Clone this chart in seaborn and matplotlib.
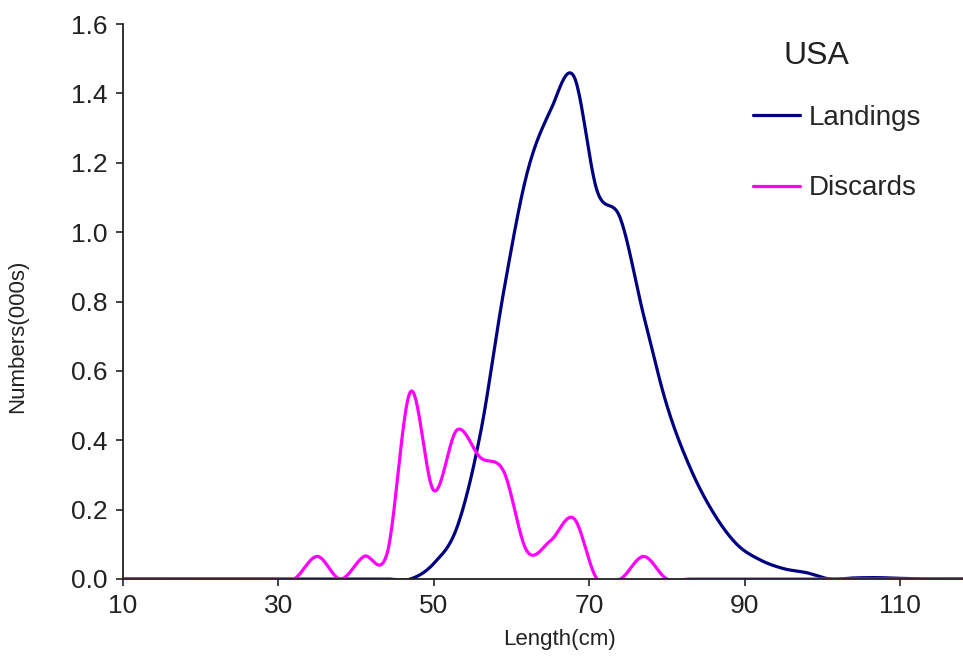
import numpy as np
import pandas as pd
import matplotlib
matplotlib.use('Agg')
import matplotlib.pyplot as plt
from matplotlib.ticker import FormatStrFormatter
import seaborn as sns

# length classes (cm) and numbers (000s)
lengths = [8, 11, 14, 17, 20, 23, 26, 29, 32, 35, 38, 41, 44, 47, 50, 53, 56, 59, 62,
           65, 68, 71, 74, 77, 80, 83, 86, 89, 92, 95, 98, 101, 104, 107, 110, 113, 116, 119]
landings = [0, 0, 0, 0, 0, 0, 0, 0, 0, 0, 0, 0, 0, 0.0, 0.045, 0.15, 0.42, 0.83, 1.17,
            1.35, 1.45, 1.12, 1.04, 0.76, 0.50, 0.32, 0.19, 0.10, 0.055, 0.03, 0.018, 0.0,
            0.003, 0.004, 0.002, 0, 0, 0]
discards = [0, 0, 0, 0, 0, 0, 0, 0, 0, 0.065, 0, 0.065, 0.075, 0.54, 0.255, 0.43, 0.35,
            0.31, 0.08, 0.11, 0.175, 0, 0, 0.065, 0, 0, 0, 0, 0, 0, 0, 0, 0, 0, 0, 0, 0, 0]
series_names = ['Landings', 'Discards']
series_colors = ['#000080', '#FF00FF']


def smooth(x, y, steps=24):
    # Excel-style smoothed line: cubic bezier with catmull-rom control points
    p = np.column_stack([x, y]).astype(float)
    out = []
    for i in range(len(p) - 1):
        p0 = p[i - 1] if i > 0 else p[i]
        p1, p2 = p[i], p[i + 1]
        p3 = p[i + 2] if i + 2 < len(p) else p[i + 1]
        c1 = p1 + (p2 - p0) / 6
        c2 = p2 - (p3 - p1) / 6
        t = np.linspace(0, 1, steps, endpoint=False)[:, None]
        seg = ((1 - t) ** 3) * p1 + 3 * ((1 - t) ** 2) * t * c1 + 3 * (1 - t) * t ** 2 * c2 + t ** 3 * p2
        out.append(seg)
    out.append(p[-1:])
    return np.vstack(out)


sns.set_style('ticks')
plt.rcParams['font.family'] = ['Liberation Sans', 'DejaVu Sans']

fig = plt.figure(figsize=(9.63, 6.71), dpi=100)
ax = fig.add_axes([123 / 963, 92 / 671, 840 / 963, 555 / 671])

for name, vals, col in zip(series_names, [landings, discards], series_colors):
    curve = smooth(lengths, vals)
    df = pd.DataFrame({'Length': curve[:, 0], 'Numbers': curve[:, 1]})
    sns.lineplot(data=df, x='Length', y='Numbers', sort=False, color=col,
                 linewidth=2.3, label=name, ax=ax)

ax.set_xlim(10, 118.1)
ax.set_ylim(0, 1.6)
ax.set_xticks([10, 30, 50, 70, 90, 110])
ax.set_yticks(np.arange(0, 1.61, 0.2))
ax.yaxis.set_major_formatter(FormatStrFormatter('%.1f'))
ax.tick_params(axis='both', labelsize=19, colors='#222222', length=5, width=1.2, pad=6)
for s in ['top', 'right']:
    ax.spines[s].set_visible(False)
for s in ['left', 'bottom']:
    ax.spines[s].set_color('#222222')
    ax.spines[s].set_linewidth(1.3)

ax.set_xlabel('Length(cm)', fontsize=16, color='#222222')
ax.set_ylabel('Numbers(000s)', fontsize=16, color='#222222')
ax.xaxis.set_label_coords(0.52, -0.09)
ax.yaxis.set_label_coords(-0.113, 0.438)

ax.legend(loc='upper left', bbox_to_anchor=(753 / 963, 1 - 105 / 671),
          bbox_transform=fig.transFigure, frameon=False, fontsize=20,
          handlelength=1.7, handletextpad=0.3, labelspacing=1.6,
          borderpad=0, borderaxespad=0)
fig.text(816 / 963, 1 - 56 / 671, 'USA', fontsize=23, ha='center', va='center', color='#222222')

fig.savefig('out.png', dpi=100)
